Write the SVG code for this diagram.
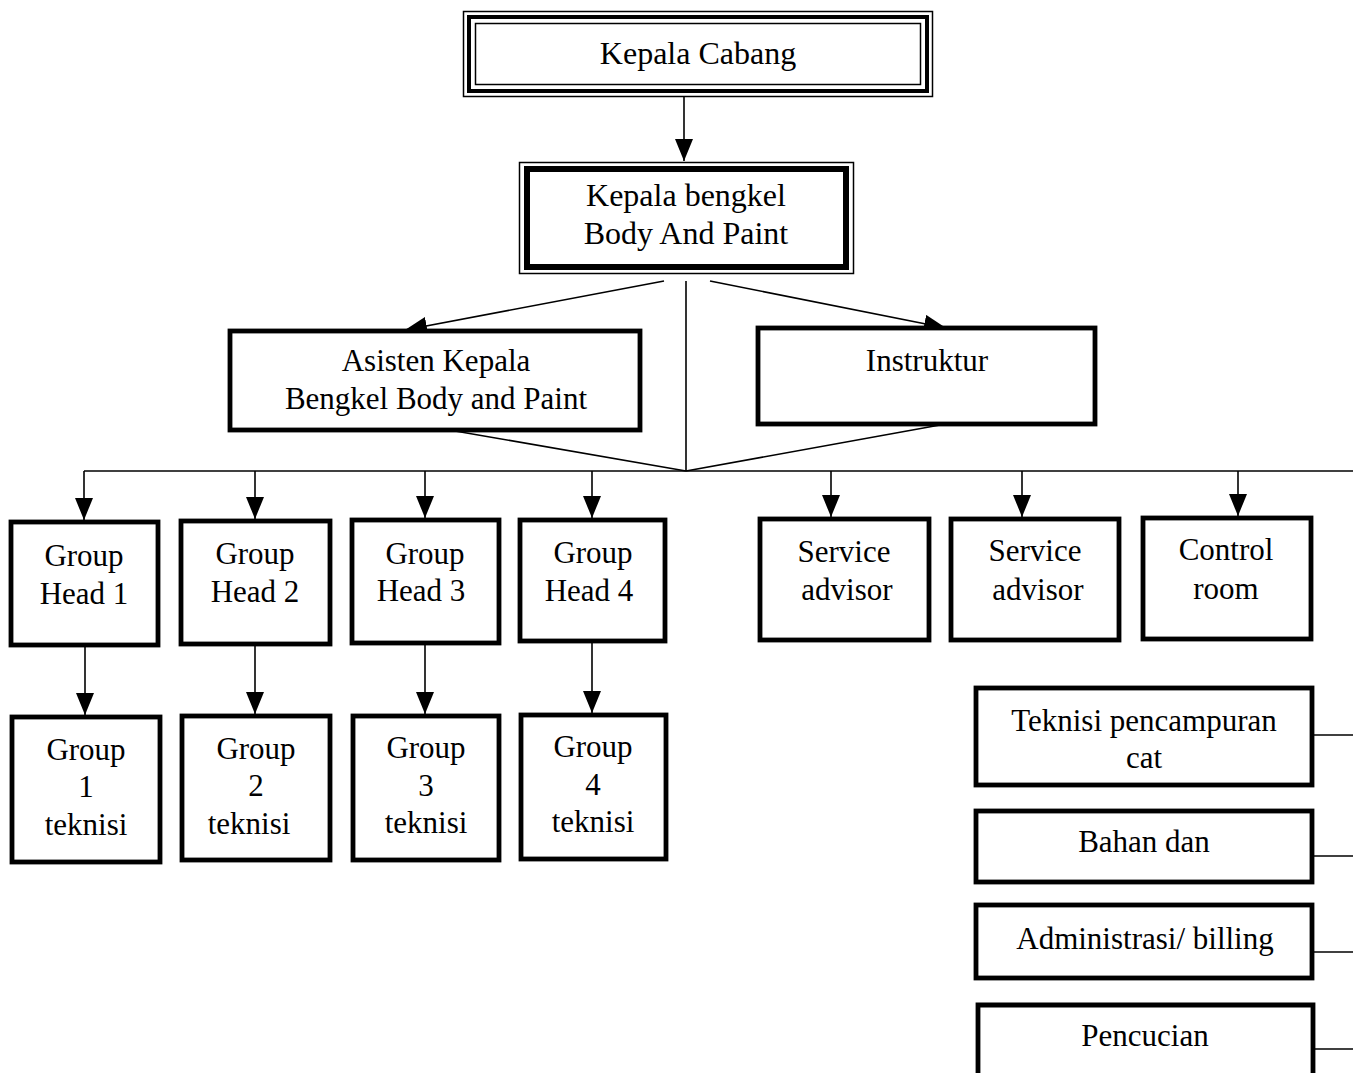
<svg xmlns="http://www.w3.org/2000/svg" width="1353" height="1073" viewBox="0 0 1353 1073">
<style>
text{font-family:"Liberation Serif","Times New Roman",serif;font-size:31px;fill:#000;text-anchor:middle}
.big{font-size:32px}
.box{fill:#fff;stroke:#000;stroke-width:4.8}
.thin{fill:none;stroke:#000;stroke-width:1.5}
.con{fill:none;stroke:#000;stroke-width:1.6}
.arr{marker-end:url(#ah)}
</style>
<defs>
<marker id="ah" markerUnits="userSpaceOnUse" markerWidth="22" markerHeight="18" refX="22" refY="9" orient="auto">
<path d="M0,0 L22,9 L0,18 z" fill="#000"/>
</marker>
</defs>
<rect width="1353" height="1073" fill="#fff"/>
<g id="connectors">
<line class="con arr" x1="684" y1="96" x2="684" y2="161"/>
<line class="con arr" x1="664" y1="281" x2="405" y2="330"/>
<line class="con arr" x1="710" y1="281" x2="946" y2="328"/>
<line class="con" x1="686" y1="281" x2="686" y2="471"/>
<line class="con" x1="455" y1="431" x2="686" y2="471"/>
<line class="con" x1="940" y1="425" x2="686" y2="471"/>
<line class="con" x1="84" y1="471" x2="1353" y2="471"/>
<line class="con arr" x1="84" y1="471" x2="84" y2="520"/>
<line class="con arr" x1="255" y1="471" x2="255" y2="519"/>
<line class="con arr" x1="425" y1="471" x2="425" y2="518"/>
<line class="con arr" x1="592" y1="471" x2="592" y2="518"/>
<line class="con arr" x1="831" y1="471" x2="831" y2="517"/>
<line class="con arr" x1="1022" y1="471" x2="1022" y2="517"/>
<line class="con arr" x1="1238" y1="471" x2="1238" y2="516"/>
<line class="con arr" x1="85" y1="645" x2="85" y2="715"/>
<line class="con arr" x1="255" y1="644" x2="255" y2="714"/>
<line class="con arr" x1="425" y1="643" x2="425" y2="714"/>
<line class="con arr" x1="592" y1="641" x2="592" y2="713"/>
<line class="con" x1="1312" y1="735" x2="1353" y2="735"/>
<line class="con" x1="1312" y1="856" x2="1353" y2="856"/>
<line class="con" x1="1312" y1="952" x2="1353" y2="952"/>
<line class="con" x1="1313" y1="1049" x2="1353" y2="1049"/>
</g>
<g id="kepala-cabang">
<rect x="463.5" y="11.5" width="469" height="85" class="thin"/>
<rect x="469" y="17" width="458" height="74" fill="#fff" stroke="#000" stroke-width="4"/>
<rect x="475.5" y="23.5" width="445" height="61" class="thin"/>
<text class="big" x="698" y="64">Kepala Cabang</text>
</g>
<g id="kepala-bengkel">
<rect x="519.5" y="162.5" width="334" height="111" class="thin"/>
<rect x="527" y="169" width="319" height="98" fill="#fff" stroke="#000" stroke-width="6"/>
<text class="big" x="686" y="206">Kepala bengkel</text>
<text class="big" x="686" y="244">Body And Paint</text>
</g>
<g id="asisten">
<rect x="230" y="331" width="410" height="99" class="box"/>
<text x="436" y="371">Asisten Kepala</text>
<text x="436" y="409">Bengkel Body and Paint</text>
</g>
<g id="instruktur">
<rect x="758" y="328" width="337" height="96" class="box"/>
<text x="927" y="371">Instruktur</text>
</g>
<g id="gh1">
<rect x="11" y="522" width="147" height="123" class="box"/>
<text x="84" y="566">Group</text>
<text x="84" y="604">Head 1</text>
</g>
<g id="gh2">
<rect x="181" y="521" width="149" height="123" class="box"/>
<text x="255" y="564">Group</text>
<text x="255" y="602">Head 2</text>
</g>
<g id="gh3">
<rect x="352" y="520" width="147" height="123" class="box"/>
<text x="425" y="564">Group</text>
<text x="421" y="601">Head 3</text>
</g>
<g id="gh4">
<rect x="520" y="520" width="145" height="121" class="box"/>
<text x="593" y="563">Group</text>
<text x="589" y="601">Head 4</text>
</g>
<g id="sa1">
<rect x="760" y="519" width="169" height="121" class="box"/>
<text x="844" y="562">Service</text>
<text x="847" y="600">advisor</text>
</g>
<g id="sa2">
<rect x="951" y="519" width="168" height="121" class="box"/>
<text x="1035" y="561">Service</text>
<text x="1038" y="600">advisor</text>
</g>
<g id="control-room">
<rect x="1143" y="518" width="168" height="121" class="box"/>
<text x="1226" y="560">Control</text>
<text x="1226" y="599">room</text>
</g>
<g id="g1t">
<rect x="12" y="717" width="148" height="145" class="box"/>
<text x="86" y="760">Group</text>
<text x="86" y="797">1</text>
<text x="86" y="835">teknisi</text>
</g>
<g id="g2t">
<rect x="182" y="716" width="148" height="144" class="box"/>
<text x="256" y="759">Group</text>
<text x="256" y="796">2</text>
<text x="249" y="834">teknisi</text>
</g>
<g id="g3t">
<rect x="353" y="716" width="146" height="144" class="box"/>
<text x="426" y="758">Group</text>
<text x="426" y="796">3</text>
<text x="426" y="833">teknisi</text>
</g>
<g id="g4t">
<rect x="521" y="715" width="145" height="144" class="box"/>
<text x="593" y="757">Group</text>
<text x="593" y="795">4</text>
<text x="593" y="832">teknisi</text>
</g>
<g id="teknisi-pencampuran">
<rect x="976" y="688" width="336" height="97" class="box"/>
<text x="1144" y="731">Teknisi pencampuran</text>
<text x="1144" y="768">cat</text>
</g>
<g id="bahan">
<rect x="976" y="811" width="336" height="71" class="box"/>
<text x="1144" y="852">Bahan dan</text>
</g>
<g id="administrasi">
<rect x="976" y="905" width="336" height="73" class="box"/>
<text x="1145" y="949">Administrasi/ billing</text>
</g>
<g id="pencucian">
<path d="M978,1073 V1005 H1313 V1073" fill="#fff" stroke="#000" stroke-width="4.8"/>
<text x="1145" y="1046">Pencucian</text>
</g>
</svg>
